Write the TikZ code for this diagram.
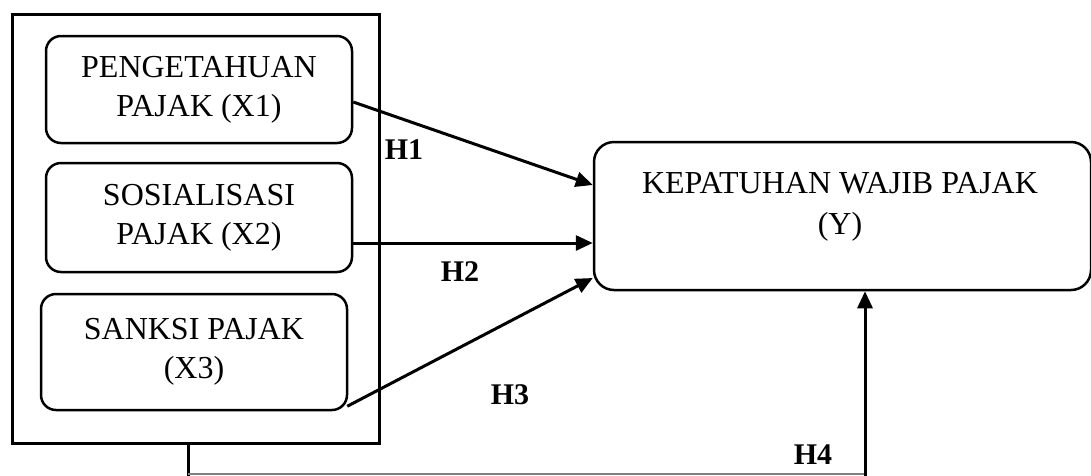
\documentclass[tikz,border=0pt]{standalone}
\usepackage{fontspec}
\setmainfont{Liberation Serif}
\usetikzlibrary{arrows.meta}
\begin{document}
\begin{tikzpicture}[x=1pt,y=-1pt,
  frame/.style={draw=black,line width=3pt,minimum width=367pt,minimum height=429pt,inner sep=0pt},
  varbox/.style={draw=black,line width=2.5pt,rounded corners=15pt,minimum width=306pt,inner sep=0pt,align=center,font=\fontsize{32}{39}\selectfont},
  ybox/.style={draw=black,line width=2.5pt,rounded corners=20pt,minimum width=497pt,minimum height=148pt,inner sep=0pt},
  ytext/.style={align=center,inner sep=0pt,font=\fontsize{32}{41}\selectfont},
  hlabel/.style={font=\fontsize{30}{30}\selectfont\bfseries,inner sep=0pt},
  conn/.style={line width=3pt,-{Triangle[length=17pt,width=15pt]}},
  link/.style={line width=3pt}
]
\useasboundingbox (0,0) rectangle (1091,475);
\node[frame] (outer) at (195.5,228.5) {};
\node[varbox,minimum height=107pt] (b1) at (199,89.5) {PENGETAHUAN\\PAJAK (X1)};
\node[varbox,minimum height=109pt] (b2) at (199,217.5) {SOSIALISASI\\PAJAK (X2)};
\node[varbox,minimum height=116pt] (b3) at (194,352) {SANKSI PAJAK\\(X3)};
\node[ybox] (Y) at (842.5,216) {};
\node[ytext] (ylab) at (840,207) {KEPATUHAN WAJIB PAJAK\\(Y)};
\draw[conn] ([yshift=-12.5pt]b1.east) -- ([yshift=31pt]Y.west);
\draw[conn] ([yshift=-25.5pt]b2.east) -- ([yshift=-27pt]Y.west);
\draw[conn] ([xshift=-1pt,yshift=5pt]b3.south east) -- ([yshift=-62pt]Y.west);
\coordinate (c1) at (188,474);
\coordinate (c2) at (865,474);
\draw[link] ([xshift=-7.5pt]outer.south) -- (188,476);
\draw[gray,line width=1.2pt] (c1) -- (c2);
\draw[conn] ([yshift=-2pt]c2) -- ([xshift=22.5pt]Y.south);
\node[hlabel] (h1) at (404,150) {H1};
\node[hlabel] (h2) at (460,272) {H2};
\node[hlabel] (h3) at (510,395) {H3};
\node[hlabel] (h4) at (813,455) {H4};
\end{tikzpicture}
\end{document}
